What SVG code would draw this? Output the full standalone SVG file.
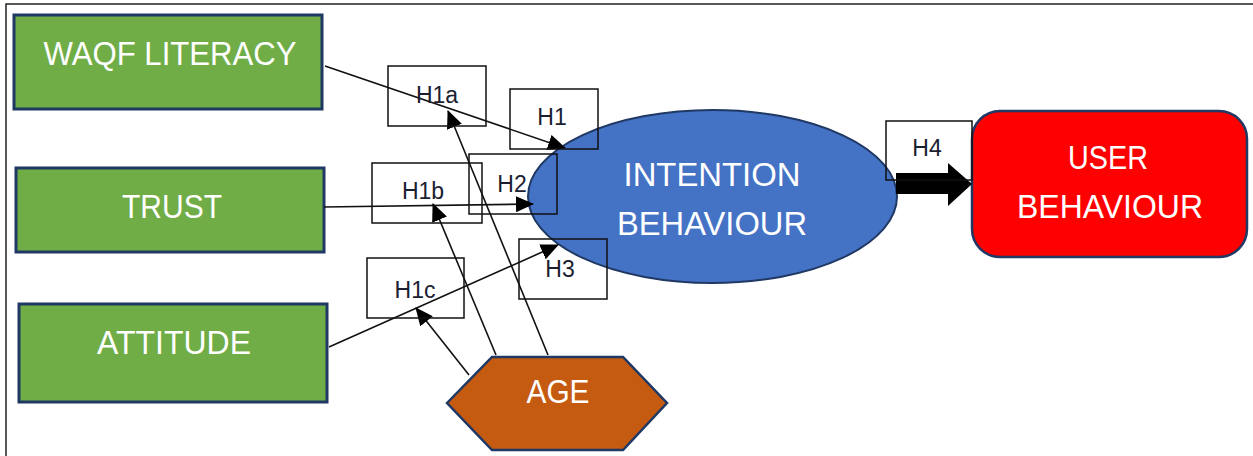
<svg xmlns="http://www.w3.org/2000/svg" width="1253" height="456" viewBox="0 0 1253 456">
<style>
.lbl{font-family:"Liberation Sans",Arial,sans-serif;fill:#fff;font-size:33px;text-anchor:middle}
.h{font-family:"Liberation Sans",Arial,sans-serif;fill:#1a2030;font-size:23px;text-anchor:middle}
.hb{fill:none;stroke:#111;stroke-width:1.5}
.grn{fill:#70AD47;stroke:#1F3864;stroke-width:3}
.ln{stroke:#111;stroke-width:1.6;fill:none;marker-end:url(#ah)}
</style>
<defs>
<marker id="ah" markerWidth="18" markerHeight="16" refX="17" refY="8" orient="auto" markerUnits="userSpaceOnUse">
<path d="M0,0 L18,8 L0,16 Z" fill="#000"/>
</marker>
</defs>
<rect x="0" y="0" width="1253" height="456" fill="#fff"/>
<rect x="6" y="4" width="1270" height="480" fill="none" stroke="#222" stroke-width="1.5"/>

<g id="waqf">
<rect class="grn" x="14" y="15" width="308" height="94"/>
<text class="lbl" x="170" y="65" textLength="253" lengthAdjust="spacingAndGlyphs">WAQF LITERACY</text>
</g>
<g id="trust">
<rect class="grn" x="16" y="168" width="308" height="84"/>
<text class="lbl" x="172" y="218" textLength="100" lengthAdjust="spacingAndGlyphs">TRUST</text>
</g>
<g id="attitude">
<rect class="grn" x="19" y="304" width="308" height="98"/>
<text class="lbl" x="174" y="354" textLength="154" lengthAdjust="spacingAndGlyphs">ATTITUDE</text>
</g>
<g id="intention">
<ellipse cx="712.5" cy="196.5" rx="184.5" ry="86.5" fill="#4472C4" stroke="#1F3864" stroke-width="2"/>
<text class="lbl" x="712" y="186" textLength="177" lengthAdjust="spacingAndGlyphs">INTENTION</text>
<text class="lbl" x="712" y="235" textLength="190" lengthAdjust="spacingAndGlyphs">BEHAVIOUR</text>
</g>
<g id="user">
<rect x="972" y="111" width="275" height="146" rx="28" fill="#FF0000" stroke="#1F3864" stroke-width="2.5"/>
<text class="lbl" x="1108" y="169" textLength="80" lengthAdjust="spacingAndGlyphs">USER</text>
<text class="lbl" x="1110" y="218" textLength="186" lengthAdjust="spacingAndGlyphs">BEHAVIOUR</text>
</g>
<g id="age">
<polygon points="447,403 492,357 623,357 667,403 623,450 492,450" fill="#C55A11" stroke="#1F3864" stroke-width="2.5"/>
<text class="lbl" x="558" y="403" textLength="63" lengthAdjust="spacingAndGlyphs">AGE</text>
</g>

<g id="connectors">
<line class="ln" x1="325" y1="66" x2="565" y2="148"/>
<line class="ln" x1="324" y1="207" x2="533" y2="204"/>
<line class="ln" x1="329" y1="347" x2="558" y2="245"/>
<line class="ln" x1="548" y1="355" x2="448" y2="111"/>
<line class="ln" x1="496" y1="355" x2="433" y2="204"/>
<line class="ln" x1="469" y1="375" x2="416" y2="308"/>
<polygon id="h4arrow" points="896,173 948,173 948,163 972,184 948,206 948,194 896,194" fill="#000"/>
</g>

<g id="h1a"><rect class="hb" x="388" y="66" width="98" height="60"/><text class="h" x="437" y="103">H1a</text></g>
<g id="h1"><rect class="hb" x="510" y="89" width="88" height="60"/><text class="h" x="552" y="125">H1</text></g>
<g id="h2"><rect class="hb" x="469" y="154" width="88" height="60"/><text class="h" x="512" y="192">H2</text></g>
<g id="h1b"><rect class="hb" x="372" y="163" width="110" height="60"/><text class="h" x="423" y="199">H1b</text></g>
<g id="h1c"><rect class="hb" x="367" y="258" width="97" height="60"/><text class="h" x="415" y="298">H1c</text></g>
<g id="h3"><rect class="hb" x="519" y="239" width="88" height="60"/><text class="h" x="560" y="277">H3</text></g>
<g id="h4"><rect class="hb" x="886" y="121" width="86" height="59"/><text class="h" x="927" y="156">H4</text></g>
</svg>
